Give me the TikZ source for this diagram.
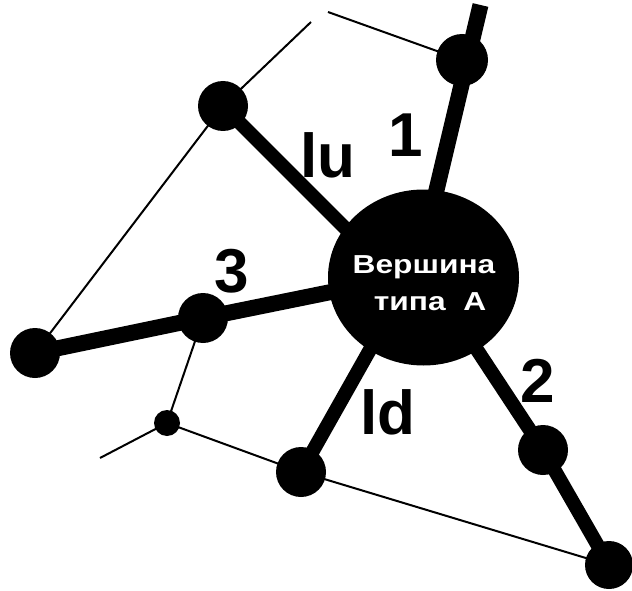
\documentclass[tikz,border=0pt]{standalone}
\usepackage{fontspec}
\setmainfont{Liberation Sans}
\usetikzlibrary{backgrounds,shapes.geometric}
\tikzset{
  dot/.style={circle,fill=black,draw=none,inner sep=0pt,minimum size=50pt},
  smalldot/.style={circle,fill=black,draw=none,inner sep=0pt,minimum size=26pt},
  edgethick/.style={line width=14pt,line join=round},
  edgethicker/.style={line width=16pt,line join=round},
  edgethin/.style={line width=2pt,line join=round},
  lbl/.style={font=\fontsize{62}{62}\selectfont\bfseries,anchor=base,inner sep=0pt},
  hubtext/.style={font=\fontsize{26}{26}\selectfont\bfseries,text=white,anchor=base,inner sep=0pt},
}
\begin{document}
\begin{tikzpicture}[x=1pt,y=-1pt]
\useasboundingbox (0,0) rectangle (632,591);
% hub
\node[ellipse,fill=black,draw=none,minimum width=191pt,minimum height=176pt,inner sep=0pt] (A) at (423.5,277.5) {};
% vertices
\node[dot,minimum size=52pt] (n1) at (462,60) {};
\node[dot] (lu) at (223,106) {};
\node[dot] (L) at (35,353) {};
\node[dot] (n3) at (203,318) {};
\node[smalldot] (s) at (167,423) {};
\node[dot] (ld) at (301,472) {};
\node[dot] (n2) at (543,450) {};
\node[dot,minimum size=48pt] (BR) at (609,565) {};
% free ends
\coordinate (top) at (480.5,5);
\coordinate (t1) at (311,22);
\coordinate (t2) at (328,12);
\coordinate (t3) at (100,458);
\coordinate (e1) at (427,230);
\coordinate (elu) at (365,248);
\coordinate (e3) at (400,278);
\coordinate (eld) at (385,323);
\coordinate (e2) at (460,324);
\begin{scope}[on background layer]
  \draw[edgethicker] (top) -- (e1);
  \draw[edgethick] (lu.center) -- (elu);
  \draw[edgethicker] (L.center) -- (n3.center) -- (e3);
  \draw[edgethick] (ld.center) -- (eld);
  \draw[edgethick] (BR.center) -- (n2.center) -- (e2);
  \draw[edgethin] (t2) -- (n1.center);
  \draw[edgethin] (t1) -- (lu.center) -- (L.center);
  \draw[edgethin] (n3.center) -- (s.center);
  \draw[edgethin] (t3) -- (s.center) -- (ld.center) -- (BR.center);
\end{scope}
% labels
\node[lbl] (l1) at (406,157) {1};
\node[lbl] (llu) at (328,178) {lu};
\node[lbl] (l3) at (232,292) {3};
\node[lbl] (l2) at (538,402) {2};
\node[lbl] (lld) at (388,434) {ld};
\node[hubtext] (h1) at (424,273) {\scalebox{1.22}[1]{Вершина}};
\node[hubtext] (h2) at (430,310) {\scalebox{1.22}[1]{типа\ \ A}};
\end{tikzpicture}
\end{document}
